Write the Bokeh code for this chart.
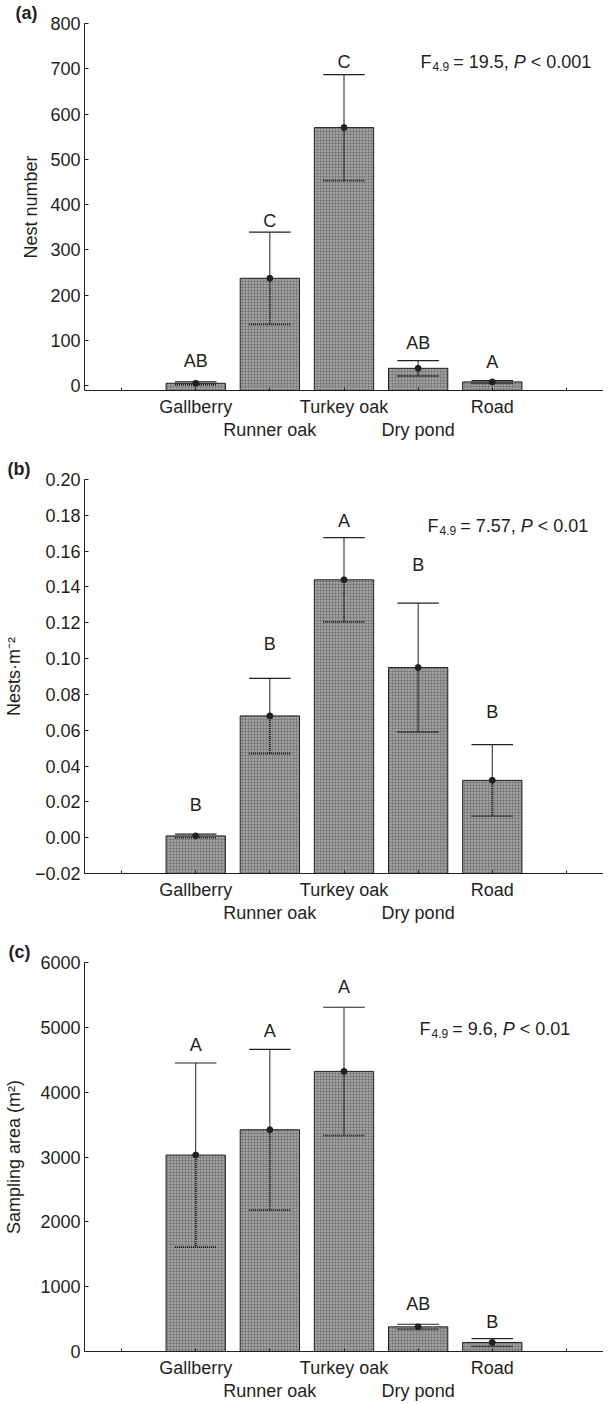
from bokeh.plotting import figure
from bokeh.models import FixedTicker, Range1d, Label
from bokeh.layouts import column
from bokeh.embed import file_html
from bokeh.resources import INLINE

# ---------------- data ----------------
categories = ["Gallberry", "Runner oak", "Turkey oak", "Dry pond", "Road"]
cat_pos = [1, 2, 3, 4, 5]

nest_mean = [5, 237, 570, 38, 8]
nest_se = [3, 102, 117, 17, 3]
nest_letters = ["AB", "C", "C", "AB", "A"]
nest_letter_y = [55, 363, 714, 95, 53]
nest_yticks = [0, 100, 200, 300, 400, 500, 600, 700, 800]
nest_yticklabels = ["0", "100", "200", "300", "400", "500", "600", "700", "800"]

dens_mean = [0.001, 0.068, 0.144, 0.095, 0.032]
dens_se = [0.001, 0.021, 0.0235, 0.036, 0.020]
dens_letters = ["B", "B", "A", "B", "B"]
dens_letter_y = [0.018, 0.108, 0.177, 0.152, 0.070]
dens_yticks = [-0.02, 0.0, 0.02, 0.04, 0.06, 0.08, 0.10, 0.12, 0.14, 0.16, 0.18, 0.20]
dens_yticklabels = ["\u22120.02", "0.00", "0.02", "0.04", "0.06", "0.08", "0.10",
                    "0.12", "0.14", "0.16", "0.18", "0.20"]

area_mean = [3030, 3420, 4320, 380, 140]
area_se = [1420, 1240, 990, 40, 60]
area_letters = ["A", "A", "A", "AB", "B"]
area_letter_y = [4720, 4950, 5615, 740, 460]
area_yticks = [0, 1000, 2000, 3000, 4000, 5000, 6000]
area_yticklabels = ["0", "1000", "2000", "3000", "4000", "5000", "6000"]

stat_a = ("4.9", "= 19.5,", "< 0.001")
stat_b = ("4.9", "= 7.57,", "< 0.01")
stat_c = ("4.9", "= 9.6,", "< 0.01")

FONT = "Liberation Sans"
INK = "#231f20"
FS = 18

CW = {"F": 0.611, ".": 0.278, ",": 0.278, " ": 0.278, "=": 0.584, "<": 0.584, "P": 0.667}
def tw(s, size):
    return sum(CW.get(c, 0.556) for c in s) * size


def panel(tag, mean, se, letters, letter_y, yticks, yticklabels, ylabel, stat,
          height, lo, hi, left, top, bottom, ylab_standoff, tag_offset, stat_xy):
    p = figure(width=603, height=height, x_range=Range1d(-0.5, 6.5),
               y_range=Range1d(lo, hi), output_backend="svg", toolbar_location=None,
               min_border_left=left, min_border_right=0,
               min_border_top=top, min_border_bottom=bottom)
    p.outline_line_color = None
    p.xgrid.grid_line_color = None
    p.ygrid.grid_line_color = None

    # panel tag as title
    p.title.text = tag
    p.title.text_font = FONT
    p.title.text_font_size = "18px"
    p.title.text_font_style = "bold"
    p.title.text_color = INK
    p.title.align = "left"
    p.title.offset = tag_offset
    p.title.standoff = 1
    p.title.text_line_height = 1.0

    # bars
    p.vbar(x=cat_pos, top=mean, bottom=lo, width=0.8,
           fill_color="#a0a0a0", line_color=INK, line_width=1,
           hatch_pattern="cross", hatch_scale=3, hatch_color="#666666",
           hatch_weight=0.6, hatch_alpha=0.8)

    upper = [m + s for m, s in zip(mean, se)]
    lower = [m - s for m, s in zip(mean, se)]
    cap = 0.28
    p.segment(x0=cat_pos, y0=mean, x1=cat_pos, y1=upper, line_color=INK, line_width=1)
    p.segment(x0=[c - cap for c in cat_pos], y0=upper, x1=[c + cap for c in cat_pos],
              y1=upper, line_color=INK, line_width=1.2)
    p.segment(x0=cat_pos, y0=mean, x1=cat_pos, y1=lower, line_color="#111111",
              line_width=1.8, line_dash="1 1")
    p.segment(x0=[c - cap for c in cat_pos], y0=lower, x1=[c + cap for c in cat_pos],
              y1=lower, line_color="#111111", line_width=1.8, line_dash="1 1")
    p.scatter(x=cat_pos, y=mean, size=6, color=INK)

    # significance letters
    p.text(x=cat_pos, y=letter_y, text=letters, text_font={"value": FONT},
           text_font_size=f"{FS}px", text_align="center", text_baseline="middle",
           text_color=INK)

    # axes
    xa = p.xaxis[0]
    xa.ticker = FixedTicker(ticks=[0, 1, 2, 3, 4, 5, 6])
    ov = {0: "", 6: ""}
    for i, (c, name) in enumerate(zip(cat_pos, categories)):
        ov[c] = name if i % 2 == 0 else "\n" + name
    xa.major_label_overrides = ov
    xa.major_label_text_font = FONT
    xa.major_label_text_font_size = f"{FS}px"
    xa.major_label_text_color = INK
    xa.major_label_text_line_height = 1.18
    xa.major_label_standoff = 6
    xa.major_tick_in = 3
    xa.major_tick_out = 0
    xa.minor_tick_line_color = None
    xa.axis_line_color = INK
    xa.major_tick_line_color = INK

    ya = p.yaxis[0]
    ya.ticker = FixedTicker(ticks=yticks)
    ya.major_label_overrides = {t: l for t, l in zip(yticks, yticklabels)}
    ya.major_label_text_font = FONT
    ya.major_label_text_font_size = f"{FS}px"
    ya.major_label_text_color = INK
    ya.major_label_standoff = 4
    ya.major_tick_in = 4
    ya.major_tick_out = 0
    ya.minor_tick_line_color = None
    ya.axis_line_color = INK
    ya.major_tick_line_color = INK
    ya.axis_label = ylabel
    ya.axis_label_text_font = FONT
    ya.axis_label_text_font_size = f"{FS}px"
    ya.axis_label_text_font_style = "normal"
    ya.axis_label_text_color = INK
    ya.axis_label_standoff = ylab_standoff

    # statistics text: F_sub = value, P < p
    sx, sy = stat_xy
    sub, mid, ptxt = stat
    pieces = [("F", FS, "normal", 0, 1), (sub, 12, "normal", -5, 4),
              (mid, FS, "normal", 0, 5), ("P", FS, "italic", 0, 5),
              (ptxt, FS, "normal", 0, 0)]
    x = sx
    for txt, size, style, dy, gap in pieces:
        p.add_layout(Label(x=x, y=sy + dy, x_units="screen", y_units="screen",
                           text=txt, text_font=FONT, text_font_size=f"{size}px",
                           text_font_style=style, text_color=INK,
                           text_baseline="alphabetic", text_align="left"))
        x += tw(txt, size) + gap
    return p


pa = panel("(a)", nest_mean, nest_se, nest_letters, nest_letter_y, nest_yticks,
           nest_yticklabels, "Nest number", stat_a,
           height=444, lo=-11, hi=800, left=68, top=21, bottom=54, ylab_standoff=6,
           tag_offset=-69, stat_xy=(336, 329))
pb = panel("(b)", dens_mean, dens_se, dens_letters, dens_letter_y, dens_yticks,
           dens_yticklabels, "Nests\u00b7m\u207b\u00b2", stat_b,
           height=483, lo=-0.02, hi=0.20, left=77, top=35, bottom=54, ylab_standoff=8,
           tag_offset=-77, stat_xy=(343, 348))
pc = panel("(c)", area_mean, area_se, area_letters, area_letter_y, area_yticks,
           area_yticklabels, "Sampling area (m\u00b2)", stat_c,
           height=478, lo=0, hi=6000, left=84, top=35, bottom=54, ylab_standoff=13,
           tag_offset=-76, stat_xy=(335, 323))

layout = column(pa, pb, pc, spacing=0)
open("out.html", "w").write(file_html(layout, INLINE))
